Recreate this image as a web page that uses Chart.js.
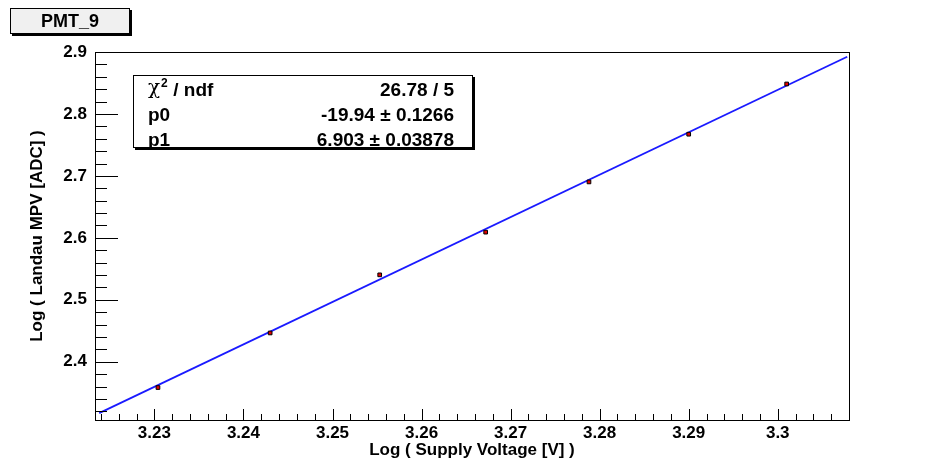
<!DOCTYPE html>
<html>
<head>
<meta charset="utf-8">
<script src="https://cdn.jsdelivr.net/npm/chart.js@4.4.1/dist/chart.umd.min.js"></script>
<style>
  html, body { margin: 0; padding: 0; background: #fff; }
  #wrap { width: 933px; height: 464px; }
</style>
</head>
<body>
<div id="wrap"><canvas id="c" width="933" height="464"></canvas></div>
<script>
// measured points (log10 of supply voltage vs log10 of landau MPV)
const logVoltage = [3.2304, 3.2430, 3.2553, 3.2672, 3.2788, 3.2900, 3.3010];
const logMpv = [2.3584, 2.4465, 2.5403, 2.6092, 2.6903, 2.7673, 2.8484];

// linear fit line ends, as drawn
const fitX = [3.2238, 3.3078];
const fitY = [2.3170, 2.8923];

const xMajorTicks = [3.23, 3.24, 3.25, 3.26, 3.27, 3.28, 3.29, 3.30];
const xTickLabels = ['3.23', '3.24', '3.25', '3.26', '3.27', '3.28', '3.29', '3.3'];
const yMajorTicks = [2.4, 2.5, 2.6, 2.7, 2.8, 2.9];
const yTickLabels = ['2.4', '2.5', '2.6', '2.7', '2.8', '2.9'];

const histTitle = 'PMT_9';
const statNames = ['χ2 / ndf', 'p0', 'p1'];
const statValues = ['26.78 / 5', '-19.94 ± 0.1266', '6.903 ± 0.03878'];

const xMin = 3.22333, xMax = 3.308;
const yMin = 2.306, yMax = 2.9;

const family = "'Liberation Sans', Arial, Helvetica, sans-serif";
const tickFont = { family, size: 17, weight: 'bold' };
const titleFont = { family, size: 17, weight: 'bold' };

function minorTicks(min, max, step) {
  const out = [];
  const start = Math.ceil(min / step - 1e-6);
  for (let i = start; i * step <= max + 1e-9; i++) out.push(i * step);
  return out;
}

// ROOT style frame: box, inward ticks, title box and stats box
const rootFrame = {
  id: 'rootFrame',
  afterDraw(chart) {
    const { ctx, chartArea: a, scales: { x, y } } = chart;
    ctx.save();
    ctx.strokeStyle = '#000';
    ctx.lineWidth = 1;
    ctx.strokeRect(a.left + 0.5, a.top + 0.5, a.right - a.left, a.bottom - a.top);

    ctx.beginPath();
    minorTicks(xMin, xMax, 0.002).forEach(v => {
      const px = Math.round(x.getPixelForValue(v)) + 0.5;
      const major = xMajorTicks.some(m => Math.abs(m - v) < 1e-6);
      ctx.moveTo(px, a.bottom);
      ctx.lineTo(px, a.bottom - (major ? 11 : 6));
    });
    minorTicks(yMin, yMax, 0.02).forEach(v => {
      const py = Math.round(y.getPixelForValue(v)) + 0.5;
      const major = yMajorTicks.some(m => Math.abs(m - v) < 1e-6);
      ctx.moveTo(a.left, py);
      ctx.lineTo(a.left + (major ? 23 : 12), py);
    });
    ctx.stroke();

    // title box
    ctx.fillStyle = '#000';
    ctx.fillRect(12, 10, 120, 26);
    ctx.fillStyle = '#f0f0f0';
    ctx.fillRect(10, 8, 120, 26);
    ctx.strokeRect(10.5, 8.5, 119, 25);
    ctx.fillStyle = '#000';
    ctx.font = `bold 18px ${family}`;
    ctx.textAlign = 'center';
    ctx.textBaseline = 'middle';
    ctx.fillText(histTitle, 70, 22);

    // stats box
    const bx = 133, by = 75, bw = 340, bh = 73;
    ctx.fillRect(bx + 2, by + 2, bw, bh);
    ctx.fillStyle = '#fff';
    ctx.fillRect(bx, by, bw, bh);
    ctx.strokeRect(bx + 0.5, by + 0.5, bw - 1, bh - 1);
    ctx.fillStyle = '#000';
    ctx.textBaseline = 'alphabetic';
    const rows = [96, 121, 146];
    statNames.forEach((name, i) => {
      ctx.textAlign = 'left';
      if (i === 0) {
        ctx.font = `20px 'DejaVu Serif', serif`;
        ctx.fillText('χ', 148, rows[i] - 2);
        ctx.font = `bold 12px ${family}`;
        ctx.fillText('2', 161, rows[i] - 9);
        ctx.font = `bold 19px ${family}`;
        ctx.fillText(' / ndf', 168, rows[i]);
      } else {
        ctx.font = `bold 19px ${family}`;
        ctx.fillText(name, 148, rows[i]);
      }
      ctx.textAlign = 'right';
      ctx.font = `bold 19px ${family}`;
      ctx.fillText(statValues[i], 454, rows[i]);
    });
    ctx.restore();
  }
};

new Chart(document.getElementById('c'), {
  type: 'scatter',
  data: {
    datasets: [
      {
        label: 'data',
        data: logVoltage.map((v, i) => ({ x: v, y: logMpv[i] })),
        pointStyle: 'rect',
        pointRadius: 2.6,
        backgroundColor: '#e00000',
        borderColor: '#000',
        borderWidth: 1,
        order: 0
      },
      {
        label: 'fit',
        type: 'line',
        data: fitX.map((v, i) => ({ x: v, y: fitY[i] })),
        borderColor: '#1a1aff',
        borderWidth: 1.8,
        pointRadius: 0,
        fill: false,
        order: 1
      }
    ]
  },
  options: {
    responsive: false,
    animation: false,
    layout: { padding: { top: 52, right: 84, left: 0, bottom: 0 } },
    plugins: { legend: { display: false }, tooltip: { enabled: false } },
    scales: {
      x: {
        type: 'linear',
        min: xMin,
        max: xMax,
        afterBuildTicks: s => { s.ticks = xMajorTicks.map(v => ({ value: v })); },
        afterFit: s => { s.height = 44; },
        grid: { display: false, drawTicks: false },
        border: { display: false },
        ticks: {
          autoSkip: false, maxRotation: 0, padding: 3, color: '#000', font: tickFont,
          callback: (v, i) => xTickLabels[i]
        },
        title: {
          display: true, text: 'Log ( Supply Voltage [V] )', color: '#000',
          font: titleFont, padding: { top: 0, bottom: 3 }
        }
      },
      y: {
        type: 'linear',
        min: yMin,
        max: yMax,
        afterBuildTicks: s => { s.ticks = yMajorTicks.map(v => ({ value: v })); },
        afterFit: s => { s.width = 95; },
        grid: { display: false, drawTicks: false },
        border: { display: false },
        ticks: {
          autoSkip: false, padding: 8, color: '#000', font: tickFont,
          callback: (v, i) => yTickLabels[i]
        },
        title: {
          display: true, text: 'Log ( Landau MPV [ADC] )', color: '#000',
          font: titleFont, padding: { top: 27, bottom: 0 }
        }
      }
    }
  },
  plugins: [rootFrame]
});
</script>
</body>
</html>
